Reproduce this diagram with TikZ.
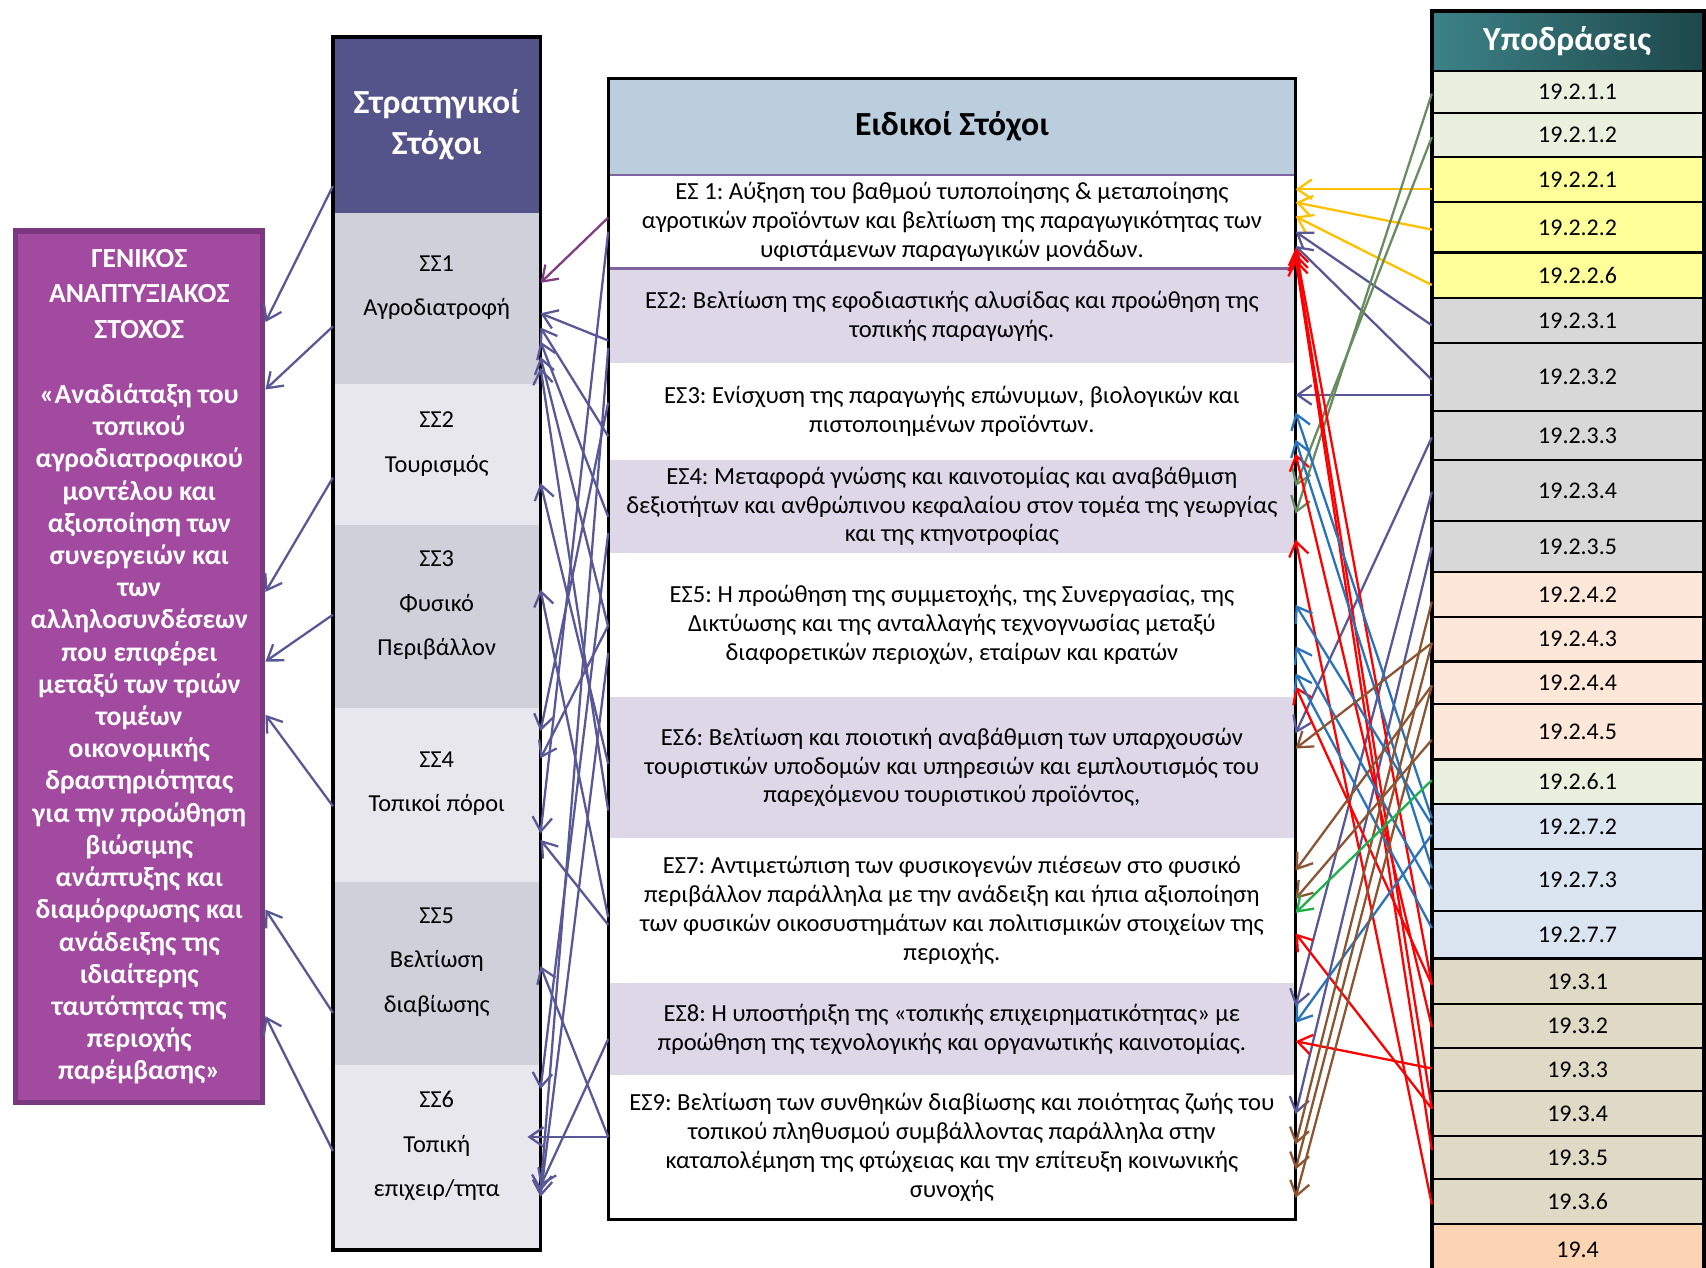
\documentclass[tikz,border=0pt]{standalone}
\usepackage{fontspec}
\setmainfont{Carlito}
\usepackage{tikz}
\usetikzlibrary{arrows.meta}
\frenchspacing

\definecolor{genfill}{RGB}{161,74,160}
\definecolor{genedge}{RGB}{122,56,126}
\definecolor{ssheadcol}{RGB}{84,83,138}
\definecolor{ssdark}{RGB}{208,208,218}
\definecolor{sslight}{RGB}{231,231,237}
\definecolor{esheadcol}{RGB}{186,206,222}
\definecolor{eslav}{RGB}{221,215,232}
\definecolor{esline}{RGB}{128,100,162}
\definecolor{subtealA}{RGB}{60,130,135}
\definecolor{subtealB}{RGB}{30,72,75}
\definecolor{subgreen}{RGB}{233,241,222}
\definecolor{subyellow}{RGB}{255,255,153}
\definecolor{subgrey}{RGB}{216,216,216}
\definecolor{subpeach}{RGB}{252,231,216}
\definecolor{subblue}{RGB}{219,229,241}
\definecolor{subtan}{RGB}{222,218,198}
\definecolor{suborange}{RGB}{251,212,180}
\definecolor{slate}{RGB}{88,88,150}
\definecolor{purp}{RGB}{128,60,130}
\definecolor{gold}{RGB}{255,192,0}
\definecolor{sage}{RGB}{104,140,96}
\definecolor{azure}{RGB}{40,115,185}
\definecolor{umber}{RGB}{140,85,50}
\definecolor{leaf}{RGB}{30,175,75}

\begin{document}
\begin{tikzpicture}[x=0.5pt, y=-0.5pt, >={Straight Barb[length=6.5pt,width=9pt]},
  box/.style={anchor=north west, inner sep=0pt, align=center},
  ssrow/.style={box, minimum width=95pt},
  sstext/.style={align=center, font=\fontsize{11.2}{20.5}\selectfont},
  esrow/.style={box, minimum width=315.5pt, font=\fontsize{11.3}{13.25}\selectfont},
  subrow/.style={box, draw=black, line width=1pt, minimum width=124pt,
    font=\fontsize{11}{13}\selectfont, execute at begin node={\hspace*{9pt}}},
  link/.style={->, line width=1.05pt}]

  \useasboundingbox (0,0) rectangle (1568,1165);

  % General development goal (left box)
  \node[box, draw=genedge, line width=2.5pt, fill=genfill, minimum width=113.5pt,
    minimum height=400.5pt, text=white, font=\bfseries\fontsize{12.7}{14.8}\selectfont]
    (gen) at (12,210) {ΓΕΝΙΚΟΣ\\[1.4pt] ΑΝΑΠΤΥΞΙΑΚΟΣ\\[1.4pt] ΣΤΟΧΟΣ\\[15.2pt]
    «Αναδιάταξη του\\ τοπικού\\ αγροδιατροφικού\\ μοντέλου και\\ αξιοποίηση των\\
    συνεργειών και\\ των\\ αλληλοσυνδέσεων\\ που επιφέρει\\ μεταξύ των τριών\\
    τομέων\\ οικονομικής\\ δραστηριότητας\\ για την προώθηση\\ βιώσιμης\\
    ανάπτυξης και\\ διαμόρφωσης και\\ ανάδειξης της\\ ιδιαίτερης\\
    ταυτότητας της\\ περιοχής\\ παρέμβασης»};

  % Strategic goals column
  \node[ssrow, fill=ssheadcol, minimum height=80.5pt, text=white,
    font=\bfseries\fontsize{15.5}{19}\selectfont] (sshead) at (306,34) {Στρατηγικοί\\Στόχοι};
  \node[ssrow, fill=ssdark, minimum height=79pt] (ss1) at (306,195) {};
  \node[ssrow, fill=sslight, minimum height=64.5pt] (ss2) at (306,353) {};
  \node[ssrow, fill=ssdark, minimum height=84pt] (ss3) at (306,482) {};
  \node[ssrow, fill=sslight, minimum height=80pt] (ss4) at (306,650) {};
  \node[ssrow, fill=ssdark, minimum height=84pt] (ss5) at (306,810) {};
  \node[ssrow, fill=sslight, minimum height=85pt] (ss6) at (306,978) {};
  \node[sstext] (ss1-txt) at ([yshift=5pt]ss1.center) {ΣΣ1\\Αγροδιατροφή};
  \node[sstext] (ss2-txt) at ([yshift=5pt]ss2.center) {ΣΣ2\\Τουρισμός};
  \node[sstext] (ss3-txt) at ([yshift=5pt]ss3.center) {ΣΣ3\\Φυσικό\\Περιβάλλον};
  \node[sstext] (ss4-txt) at ([yshift=5pt]ss4.center) {ΣΣ4\\Τοπικοί πόροι};
  \node[sstext] (ss5-txt) at ([yshift=5pt]ss5.center) {ΣΣ5\\Βελτίωση\\διαβίωσης};
  \node[sstext] (ss6-txt) at ([yshift=5pt]ss6.center) {ΣΣ6\\Τοπική\\επιχειρ/τητα};
  \draw[line width=1.5pt] (sshead.north west) rectangle (ss6.south east);

  % Specific goals column
  \node[esrow, fill=esheadcol, minimum height=44pt, font=\bfseries\fontsize{15.5}{17}\selectfont]
    (eshead) at (559,72) {Ειδικοί Στόχοι};
  \node[esrow, fill=white, minimum height=43.5pt] (es1) at (559,160)
    {ΕΣ 1: Αύξηση του βαθμού τυποποίησης \& μεταποίησης\\ αγροτικών προϊόντων και βελτίωση της παραγωγικότητας των\\ υφιστάμενων παραγωγικών μονάδων.};
  \node[esrow, fill=eslav, minimum height=43pt] (es2) at (559,247)
    {ΕΣ2: Βελτίωση της εφοδιαστικής αλυσίδας και προώθηση της\\ τοπικής παραγωγής.};
  \node[esrow, fill=white, minimum height=44.5pt] (es3) at (559,333)
    {ΕΣ3: Ενίσχυση της παραγωγής επώνυμων, βιολογικών και\\ πιστοποιημένων προϊόντων.};
  \node[esrow, fill=eslav, minimum height=43pt] (es4) at (559,422)
    {ΕΣ4: Μεταφορά γνώσης και καινοτομίας και αναβάθμιση\\ δεξιοτήτων και ανθρώπινου κεφαλαίου στον τομέα της γεωργίας\\ και της κτηνοτροφίας};
  \node[esrow, fill=white, minimum height=66pt] (es5) at (559,508)
    {ΕΣ5: Η προώθηση της συμμετοχής, της Συνεργασίας, της\\ Δικτύωσης και της ανταλλαγής τεχνογνωσίας μεταξύ\\ διαφορετικών περιοχών, εταίρων και κρατών};
  \node[esrow, fill=eslav, minimum height=65pt] (es6) at (559,640)
    {ΕΣ6: Βελτίωση και ποιοτική αναβάθμιση των υπαρχουσών\\ τουριστικών υποδομών και υπηρεσιών και εμπλουτισμός του\\ παρεχόμενου τουριστικού προϊόντος,};
  \node[esrow, fill=white, minimum height=66.5pt] (es7) at (559,770)
    {ΕΣ7: Αντιμετώπιση των φυσικογενών πιέσεων στο φυσικό\\ περιβάλλον παράλληλα με την ανάδειξη και ήπια αξιοποίηση\\ των φυσικών οικοσυστημάτων και πολιτισμικών στοιχείων της\\ περιοχής.};
  \node[esrow, fill=eslav, minimum height=42.5pt] (es8) at (559,903)
    {ΕΣ8: Η υποστήριξη της «τοπικής επιχειρηματικότητας» με\\ προώθηση της τεχνολογικής και οργανωτικής καινοτομίας.};
  \node[esrow, fill=white, minimum height=66pt] (es9) at (559,988)
    {ΕΣ9: Βελτίωση των συνθηκών διαβίωσης και ποιότητας ζωής του\\ τοπικού πληθυσμού συμβάλλοντας παράλληλα στην\\ καταπολέμηση της φτώχειας και την επίτευξη κοινωνικής\\ συνοχής};
  \draw[esline, line width=1.2pt] (eshead.south west) -- (eshead.south east);
  \draw[esline, line width=1.2pt] (es2.north west) -- (es2.north east);
  \draw[line width=1.5pt] (eshead.north west) rectangle (es9.south east);

  % Sub-measures column
  \node[box, minimum width=124pt, minimum height=27pt, left color=subtealA, right color=subtealB,
    text=white, font=\bfseries\fontsize{15.5}{17}\selectfont] (subhead) at (1316,10) {Υποδράσεις};
  \node[subrow, fill=subgreen, minimum height=19.5pt] (sub2111) at (1316,64) {19.2.1.1};
  \node[subrow, fill=subgreen, minimum height=20pt] (sub2112) at (1316,103) {19.2.1.2};
  \node[subrow, fill=subyellow, minimum height=21pt] (sub2121) at (1316,143) {19.2.2.1};
  \node[subrow, fill=subyellow, minimum height=23pt] (sub2122) at (1316,185) {19.2.2.2};
  \node[subrow, fill=subyellow, minimum height=21pt] (sub2126) at (1316,231) {19.2.2.6};
  \node[subrow, fill=subgrey, minimum height=20.5pt] (sub2131) at (1316,273) {19.2.3.1};
  \node[subrow, fill=subgrey, minimum height=31.5pt] (sub2132) at (1316,314) {19.2.3.2};
  \node[subrow, fill=subgrey, minimum height=22.5pt] (sub2133) at (1316,377) {19.2.3.3};
  \node[subrow, fill=subgrey, minimum height=28pt] (sub2134) at (1316,422) {19.2.3.4};
  \node[subrow, fill=subgrey, minimum height=23.5pt] (sub2135) at (1316,478) {19.2.3.5};
  \node[subrow, fill=subpeach, minimum height=20.5pt] (sub2142) at (1316,525) {19.2.4.2};
  \node[subrow, fill=subpeach, minimum height=20.5pt] (sub2143) at (1316,566) {19.2.4.3};
  \node[subrow, fill=subpeach, minimum height=19.5pt] (sub2144) at (1316,607) {19.2.4.4};
  \node[subrow, fill=subpeach, minimum height=25.5pt] (sub2145) at (1316,646) {19.2.4.5};
  \node[subrow, fill=subgreen, minimum height=20.5pt] (sub2161) at (1316,697) {19.2.6.1};
  \node[subrow, fill=subblue, minimum height=20.5pt] (sub2172) at (1316,738) {19.2.7.2};
  \node[subrow, fill=subblue, minimum height=28.5pt] (sub2173) at (1316,779) {19.2.7.3};
  \node[subrow, fill=subblue, minimum height=22pt] (sub2177) at (1316,836) {19.2.7.7};
  \node[subrow, fill=subtan, minimum height=21pt] (sub31) at (1316,880) {19.3.1};
  \node[subrow, fill=subtan, minimum height=20pt] (sub32) at (1316,922) {19.3.2};
  \node[subrow, fill=subtan, minimum height=20pt] (sub33) at (1316,962) {19.3.3};
  \node[subrow, fill=subtan, minimum height=20.5pt] (sub34) at (1316,1002) {19.3.4};
  \node[subrow, fill=subtan, minimum height=20pt] (sub35) at (1316,1043) {19.3.5};
  \node[subrow, fill=subtan, minimum height=20.5pt] (sub36) at (1316,1083) {19.3.6};
  \node[subrow, fill=suborange, minimum height=24pt] (sub4) at (1316,1124) {19.4};
  \draw[line width=2pt] (subhead.north west) rectangle (sub4.south east);

  % Strategic goals feed the general goal
  \draw[link, slate] (sshead.west |- 0,171) -- (gen.east |- 0,296);
  \draw[link, slate] (ss1.west |- 0,300) -- (gen.east |- 0,358);
  \draw[link, slate] (ss2.west |- 0,439) -- (gen.east |- 0,544);
  \draw[link, slate] (ss3.west |- 0,565) -- (gen.east |- 0,608);
  \draw[link, slate] (ss4.west |- 0,741) -- (gen.east |- 0,657);
  \draw[link, slate] (ss5.west |- 0,931) -- (gen.east |- 0,836);
  \draw[link, slate] (ss6.west |- 0,1058) -- (gen.east |- 0,934);

  % Specific goals feed the strategic goals
  \draw[link, purp] (es1.west |- 0,200) -- (ss1.east |- 0,260);
  \draw[link, slate] (es2.west |- 0,313) -- (ss1.east |- 0,288);
  \draw[link, slate] (es3.west |- 0,401) -- (ss1.east |- 0,301);
  \draw[link, slate] (es4.west |- 0,475) -- (ss1.east |- 0,314);
  \draw[link, slate] (es5.west |- 0,576) -- (ss1.east |- 0,328);
  \draw[link, slate] (es6.west |- 0,745) -- (ss1.east |- 0,338);
  \draw[link, slate] (es6.west |- 0,702) -- (ss2.east |- 0,444);
  \draw[link, slate] (es7.west |- 0,843) -- (ss3.east |- 0,542);
  \draw[link, slate] (es3.west |- 0,370) -- (ss4.east |- 0,672);
  \draw[link, slate] (es5.west |- 0,575) -- (ss4.east |- 0,697);
  \draw[link, slate] (es1.west |- 0,213) -- (ss4.east |- 0,766);
  \draw[link, slate] (es7.west |- 0,850) -- (ss4.east |- 0,772);
  \draw[link, slate] (es9.west |- 0,1045) -- (ss5.east |- 0,888);
  \draw[link, slate] (es4.west |- 0,490) -- (ss6.east |- 0,1001);
  \draw[link, slate, shorten >=-6pt] (es9.west |- 0,1045) -- (ss6.east |- 0,1045);
  \draw[link, slate] (es8.west |- 0,955) -- (ss6.east |- 0,1090);
  \draw[link, slate] (es2.west |- 0,320) -- (ss6.east |- 0,1095);
  \draw[link, slate] (es5.west |- 0,600) -- (ss6.east |- 0,1100);

  % Sub-measures feed the specific goals
  \draw[link, gold] (sub2121.west |- 0,174) -- (es1.east |- 0,174);
  \draw[link, gold] (sub2122.west |- 0,211) -- (es1.east |- 0,186);
  \draw[link, gold] (sub2126.west |- 0,262) -- (es1.east |- 0,199);
  \draw[link, slate] (sub2131.west |- 0,299) -- (es1.east |- 0,213);
  \draw[link, slate] (sub2132.west |- 0,349) -- (es1.east |- 0,226);
  \draw[link, slate] (sub2132.west |- 0,363) -- (es3.east |- 0,363);
  \draw[link, slate] (sub2133.west |- 0,402) -- (es6.east |- 0,674);
  \draw[link, slate] (sub2134.west |- 0,452) -- (es8.east |- 0,925);
  \draw[link, slate] (sub2135.west |- 0,503) -- (es9.east |- 0,1024);
  \draw[link, sage] (sub2111.west |- 0,86) -- (es4.east |- 0,472);
  \draw[link, sage] (sub2112.west |- 0,126) -- (es4.east |- 0,447);
  \draw[link, red] (sub31.west |- 0,905) -- (es1.east |- 0,228);
  \draw[link, red] (sub34.west |- 0,1019) -- (es1.east |- 0,233);
  \draw[link, red] (sub35.west |- 0,1057) -- (es1.east |- 0,238);
  \draw[link, red] (sub32.west |- 0,944) -- (es3.east |- 0,417);
  \draw[link, red] (sub36.west |- 0,1107) -- (es4.east |- 0,496);
  \draw[link, red] (sub31.west |- 0,905) -- (es5.east |- 0,631);
  \draw[link, red] (sub34.west |- 0,1019) -- (es7.east |- 0,858);
  \draw[link, red] (sub33.west |- 0,982) -- (es8.east |- 0,957);
  \draw[link, azure] (sub2172.west |- 0,752) -- (es3.east |- 0,379);
  \draw[link, azure] (sub2173.west |- 0,798) -- (es3.east |- 0,404);
  \draw[link, azure] (sub2172.west |- 0,758) -- (es5.east |- 0,556);
  \draw[link, azure] (sub2173.west |- 0,817) -- (es5.east |- 0,594);
  \draw[link, azure] (sub2177.west |- 0,853) -- (es5.east |- 0,619);
  \draw[link, azure] (sub2172.west |- 0,767) -- (es8.east |- 0,940);
  \draw[link, umber] (sub2142.west |- 0,553) -- (es9.east |- 0,1052);
  \draw[link, umber] (sub2143.west |- 0,591) -- (es6.east |- 0,688);
  \draw[link, umber] (sub2143.west |- 0,591) -- (es9.east |- 0,1075);
  \draw[link, umber] (sub2144.west |- 0,630) -- (es7.east |- 0,800);
  \draw[link, umber] (sub2144.west |- 0,630) -- (es9.east |- 0,1101);
  \draw[link, umber] (sub2145.west |- 0,680) -- (es7.east |- 0,826);
  \draw[link, leaf] (sub2161.west |- 0,717) -- (es7.east |- 0,839);

\end{tikzpicture}
\end{document}
